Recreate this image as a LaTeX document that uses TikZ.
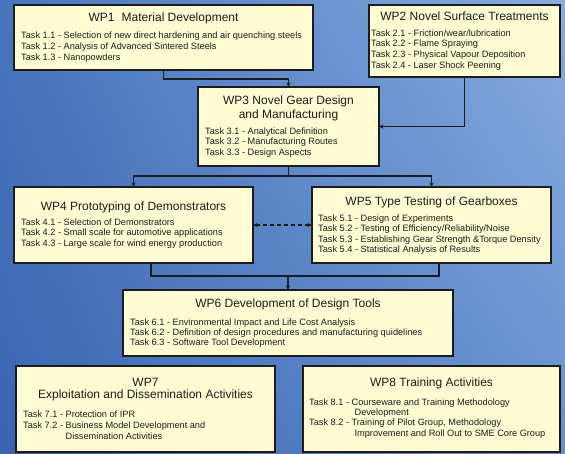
\documentclass[tikz,border=0pt]{standalone}
\usepackage{fontspec}
\setmainfont{Liberation Sans}
\usetikzlibrary{arrows.meta,calc,shadings}
\definecolor{boxfill}{HTML}{FFFBD2}
\definecolor{ink}{HTML}{1C1C1C}
\definecolor{bgUL}{HTML}{4775BE}
\definecolor{bgUR}{HTML}{88ACDF}
\definecolor{bgLL}{HTML}{3A64B0}
\definecolor{bgLR}{HTML}{6690CF}
\begin{document}
\begin{tikzpicture}[x=1pt,y=-1pt,
  box/.style={draw=ink,line width=1.3pt,fill=boxfill,rectangle,inner sep=0pt,outer sep=0pt,anchor=north west},
  title/.style={font=\fontsize{12}{14}\selectfont,text=ink,inner sep=0pt,anchor=base},
  tasks/.style={font=\fontsize{9.2}{#1}\selectfont,text=ink,inner sep=0pt,anchor=base west},
  conn/.style={draw=ink,line width=1.1pt},
  arr/.style={conn,-{Stealth[length=4.5pt,width=4pt]}},
  darr/.style={conn,dashed,dash pattern=on 4pt off 3pt,{Stealth[length=4.5pt,width=4pt]}-{Stealth[length=4.5pt,width=4pt]}}]
\useasboundingbox (0,0) rectangle (565,453);
\shade[upper left=bgUL,upper right=bgUR,lower left=bgLL,lower right=bgLR] (0,0) rectangle (565,453);

% boxes
\node[box,minimum width=299,minimum height=65] (wp1) at (14,5) {};
\node[box,minimum width=191,minimum height=72] (wp2) at (369,5) {};
\node[box,minimum width=181,minimum height=79] (wp3) at (198,87) {};
\node[box,minimum width=239,minimum height=76] (wp4) at (14,187) {};
\node[box,minimum width=239,minimum height=76] (wp5) at (312,187) {};
\node[box,minimum width=330,minimum height=66] (wp6) at (123,290) {};
\node[box,minimum width=259,minimum height=86] (wp7) at (16,366) {};
\node[box,minimum width=257,minimum height=86] (wp8) at (303,366) {};

% WP1
\node[title] (wp1t) at (163.5,21.5) {WP1\hspace{0.6em}Material Development};
\node[tasks=11] (wp1k) at (21,38.2) {\begin{tabular}[t]{@{}l@{}}
Task 1.1 - Selection of new direct hardening and air quenching steels\\
Task 1.2 - Analysis of Advanced Sintered Steels\\
Task 1.3 - Nanopowders\end{tabular}};
% WP2
\node[title] (wp2t) at (464.5,20.5) {WP2 Novel Surface Treatments};
\node[tasks=10.7] (wp2k) at (371,36.2) {\begin{tabular}[t]{@{}l@{}}
Task 2.1 - Friction/wear/lubrication\\
Task 2.2 - Flame Spraying\\
Task 2.3 - Physical Vapour Deposition\\
Task 2.4 - Laser Shock Peening\end{tabular}};
% WP3
\node[title] (wp3t1) at (288.5,104.5) {WP3 Novel Gear Design};
\node[title] (wp3t2) at (288.5,118.5) {and Manufacturing};
\node[tasks=10.5] (wp3k) at (205,134.2) {\begin{tabular}[t]{@{}l@{}}
Task 3.1 - Analytical Definition\\
Task 3.2 - Manufacturing Routes\\
Task 3.3 - Design Aspects\end{tabular}};
% WP4
\node[title] (wp4t) at (133.5,210.5) {WP4 Prototyping of Demonstrators};
\node[tasks=10.5] (wp4k) at (21,225.2) {\begin{tabular}[t]{@{}l@{}}
Task 4.1 - Selection of Demonstrators\\
Task 4.2 - Small scale for automotive applications\\
Task 4.3 - Large scale for wind energy production\end{tabular}};
% WP5
\node[title] (wp5t) at (431.5,205.5) {WP5 Type Testing of Gearboxes};
\node[tasks=10.4] (wp5k) at (318,221.2) {\begin{tabular}[t]{@{}l@{}}
Task 5.1 - Design of Experiments\\
Task 5.2 - Testing of Efficiency/Reliability/Noise\\
Task 5.3 - Establishing Gear Strength \&Torque Density\\
Task 5.4 - Statistical Analysis of Results\end{tabular}};
% WP6
\node[title] (wp6t) at (288,307.5) {WP6 Development of Design Tools};
\node[tasks=10] (wp6k) at (130,325.2) {\begin{tabular}[t]{@{}l@{}}
Task 6.1 - Environmental Impact and Life Cost Analysis\\
Task 6.2 - Definition of design procedures and manufacturing quidelines\\
Task 6.3 - Software Tool Development\end{tabular}};
% WP7
\node[title] (wp7t1) at (145.5,386.5) {WP7};
\node[title] (wp7t2) at (145.5,398.5) {Exploitation and Dissemination Activities};
\node[tasks=11.3] (wp7k) at (23,417.2) {\begin{tabular}[t]{@{}l@{}l@{}}
\multicolumn{2}{@{}l@{}}{Task 7.1 - Protection of IPR}\\
Task 7.2 - \mbox{} & Business Model Development and\\
 & Dissemination Activities\end{tabular}};
% WP8
\node[title] (wp8t) at (431.5,386.5) {WP8 Training Activities};
\node[tasks=10.3] (wp8k) at (309,405.2) {\begin{tabular}[t]{@{}l@{}l@{}}
Task 8.1 - \mbox{} & Courseware and Training Methodology\\
 & \hspace{3pt}Development\\
Task 8.2 - \mbox{} & Training of Pilot Group, Methodology\\
 & \hspace{3pt}Improvement and Roll Out to SME Core Group\end{tabular}};

% connectors
\draw[arr] (wp1.south) -- ++(0,9) -| (wp3.north);
\draw[arr] (wp2.south) |- (wp3.east);
\draw[conn] (wp3.south) -- ++(0,10) coordinate (j1);
\draw[arr] (j1) -| (wp4.north);
\draw[arr] (j1) -| (wp5.north);
\draw[darr] (wp4.east) -- (wp5.west);
\draw[conn] ([xshift=17.5pt]wp4.south) -- ++(0,13) coordinate (j2) -| ([xshift=7.5pt]wp5.south);
\draw[arr] (wp6.north |- j2) -- (wp6.north);
\end{tikzpicture}
\end{document}
